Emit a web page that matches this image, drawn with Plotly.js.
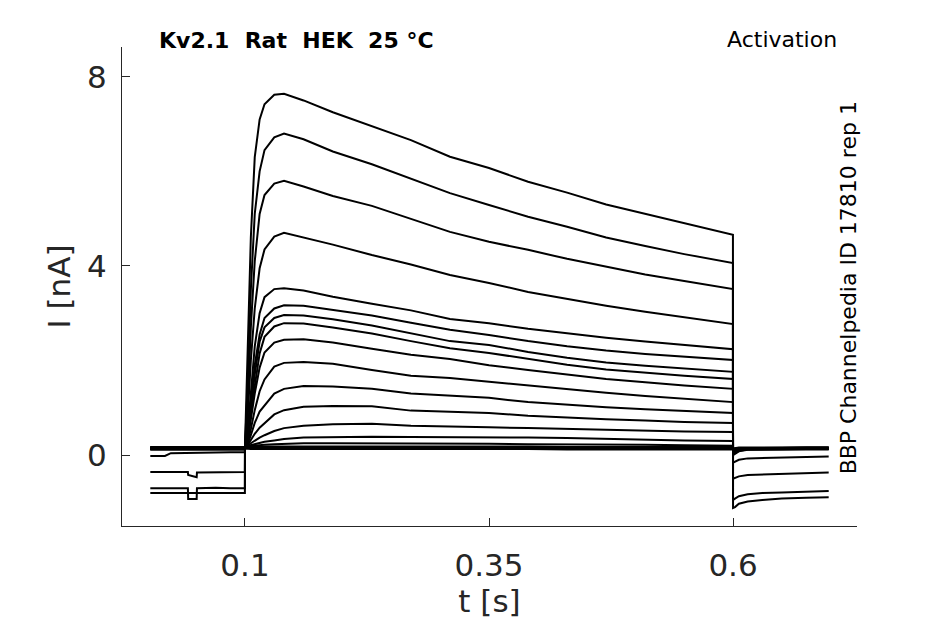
<!DOCTYPE html>
<html>
<head>
<meta charset="utf-8">
<script src="https://cdn.plot.ly/plotly-3.0.1.min.js"></script>
<style>html,body{margin:0;padding:0;background:#fff;}#chart{width:945px;height:624px;}</style>
</head>
<body>
<div id="chart"></div>
<script>
// time bases (s)
const tPre = [0.003, 0.018, 0.024, 0.0415, 0.0418, 0.0505, 0.0508, 0.07, 0.085, 0.0999];
const tStep = [0.1, 0.103, 0.106, 0.11, 0.115, 0.12, 0.13, 0.14, 0.16, 0.19, 0.23, 0.27, 0.31, 0.35, 0.39, 0.43, 0.47, 0.51, 0.55, 0.5999];
const tTail = [0.6, 0.602, 0.606, 0.615, 0.63, 0.65, 0.675, 0.698];

// currents (nA) before the step, one row per sweep
const preCurrents = [
  [-0.80,-0.80,-0.79,-0.80,-0.80,-0.80,-0.80,-0.79,-0.80,-0.80],
  [-0.70,-0.70,-0.70,-0.70,-0.93,-0.93,-0.70,-0.69,-0.70,-0.70],
  [-0.36,-0.36,-0.35,-0.36,-0.42,-0.47,-0.37,-0.36,-0.36,-0.36],
  [-0.02,-0.02,0.04,0.05,0.05,0.05,0.05,0.06,0.06,0.06],
  [0.14,0.14,0.15,0.14,0.14,0.14,0.14,0.15,0.14,0.14],
  [0.15,0.15,0.15,0.16,0.15,0.15,0.15,0.15,0.16,0.15],
  [0.16,0.16,0.16,0.16,0.16,0.17,0.16,0.16,0.16,0.16],
  [0.13,0.13,0.14,0.13,0.13,0.13,0.13,0.14,0.13,0.13],
  [0.17,0.17,0.17,0.17,0.17,0.17,0.17,0.17,0.17,0.17],
  [0.12,0.12,0.12,0.13,0.12,0.12,0.12,0.12,0.12,0.12],
  [0.15,0.15,0.16,0.15,0.15,0.15,0.15,0.15,0.15,0.15],
  [0.14,0.14,0.14,0.14,0.14,0.15,0.14,0.14,0.14,0.14],
  [0.16,0.16,0.16,0.16,0.16,0.16,0.16,0.16,0.16,0.16],
  [0.13,0.13,0.13,0.13,0.13,0.13,0.14,0.13,0.13,0.13],
  [0.15,0.15,0.15,0.15,0.15,0.15,0.15,0.15,0.15,0.15],
  [0.16,0.16,0.17,0.16,0.16,0.16,0.16,0.16,0.16,0.16],
  [0.14,0.14,0.14,0.14,0.14,0.14,0.14,0.14,0.14,0.14],
  [0.12,0.12,0.12,0.12,0.12,0.12,0.12,0.12,0.12,0.12]
];

// currents (nA) during the voltage step
const stepCurrents = [
  [0.2, 2.2, 4.6, 6.3, 7.1, 7.42, 7.62, 7.64, 7.50, 7.25, 6.95, 6.66, 6.31, 6.07, 5.78, 5.55, 5.30, 5.10, 4.90, 4.66],
  [0.2, 1.6, 3.5, 5.1, 6.0, 6.45, 6.72, 6.80, 6.68, 6.42, 6.15, 5.85, 5.54, 5.29, 5.04, 4.83, 4.60, 4.42, 4.25, 4.06],
  [0.2, 1.2, 2.7, 4.1, 5.1, 5.5, 5.74, 5.80, 5.68, 5.48, 5.27, 5.00, 4.72, 4.51, 4.34, 4.15, 3.98, 3.82, 3.68, 3.51],
  [0.2, 0.9, 2.0, 3.1, 3.95, 4.35, 4.62, 4.70, 4.60, 4.45, 4.23, 4.03, 3.81, 3.64, 3.45, 3.30, 3.16, 3.03, 2.91, 2.77],
  [0.2, 0.6, 1.3, 2.3, 3.0, 3.34, 3.51, 3.53, 3.48, 3.35, 3.20, 3.06, 2.88, 2.79, 2.67, 2.57, 2.48, 2.40, 2.33, 2.24],
  [0.2, 0.5, 1.1, 1.9, 2.55, 2.9, 3.1, 3.17, 3.16, 3.07, 2.95, 2.80, 2.65, 2.54, 2.41, 2.30, 2.21, 2.14, 2.08, 2.01],
  [0.2, 0.45, 1.0, 1.7, 2.4, 2.7, 2.9, 2.96, 2.95, 2.87, 2.74, 2.58, 2.41, 2.33, 2.18, 2.06, 1.96, 1.89, 1.83, 1.76],
  [0.2, 0.4, 0.9, 1.5, 2.15, 2.5, 2.72, 2.79, 2.78, 2.70, 2.57, 2.41, 2.26, 2.16, 2.03, 1.91, 1.81, 1.74, 1.68, 1.61],
  [0.2, 0.35, 0.75, 1.3, 1.85, 2.17, 2.38, 2.44, 2.45, 2.38, 2.25, 2.12, 2.03, 1.90, 1.80, 1.70, 1.61, 1.54, 1.47, 1.40],
  [0.2, 0.3, 0.55, 0.95, 1.35, 1.6, 1.87, 1.95, 1.97, 1.93, 1.80, 1.68, 1.63, 1.55, 1.48, 1.40, 1.32, 1.25, 1.19, 1.12],
  [0.2, 0.25, 0.42, 0.68, 0.92, 1.05, 1.30, 1.40, 1.46, 1.45, 1.40, 1.30, 1.25, 1.21, 1.12, 1.06, 1.01, 0.97, 0.93, 0.89],
  [0.2, 0.22, 0.32, 0.45, 0.58, 0.68, 0.86, 0.95, 1.02, 1.04, 1.03, 0.94, 0.91, 0.89, 0.83, 0.79, 0.76, 0.73, 0.70, 0.68],
  [0.2, 0.2, 0.25, 0.31, 0.37, 0.42, 0.51, 0.57, 0.62, 0.65, 0.66, 0.62, 0.61, 0.59, 0.57, 0.55, 0.53, 0.52, 0.50, 0.49],
  [0.2, 0.19, 0.21, 0.23, 0.26, 0.28, 0.31, 0.34, 0.37, 0.38, 0.39, 0.38, 0.38, 0.38, 0.37, 0.36, 0.34, 0.33, 0.31, 0.30],
  [0.2, 0.18, 0.19, 0.2, 0.21, 0.22, 0.23, 0.24, 0.25, 0.25, 0.25, 0.25, 0.24, 0.24, 0.23, 0.23, 0.22, 0.22, 0.21, 0.20],
  [0.18, 0.17, 0.17, 0.17, 0.18, 0.18, 0.18, 0.18, 0.18, 0.19, 0.19, 0.18, 0.18, 0.18, 0.18, 0.17, 0.17, 0.17, 0.17, 0.17],
  [0.16, 0.15, 0.15, 0.15, 0.15, 0.16, 0.16, 0.16, 0.16, 0.16, 0.16, 0.16, 0.15, 0.15, 0.15, 0.15, 0.15, 0.15, 0.15, 0.15],
  [0.14, 0.13, 0.13, 0.13, 0.13, 0.14, 0.14, 0.14, 0.14, 0.14, 0.13, 0.13, 0.13, 0.13, 0.13, 0.12, 0.12, 0.13, 0.13, 0.13]
];

// tail currents (nA) after the step
const tailCurrents = [
  [-1.12,-1.10,-1.03,-0.98,-0.95,-0.92,-0.90,-0.89],
  [-0.95,-0.92,-0.87,-0.83,-0.80,-0.79,-0.77,-0.76],
  [-0.50,-0.48,-0.45,-0.42,-0.41,-0.40,-0.38,-0.37],
  [-0.16,-0.14,-0.10,-0.07,-0.06,-0.05,-0.04,-0.03],
  [0.00,0.03,0.08,0.11,0.12,0.12,0.13,0.13],
  [0.02,0.05,0.09,0.12,0.13,0.13,0.14,0.14],
  [0.05,0.08,0.11,0.13,0.14,0.14,0.15,0.15],
  [0.06,0.09,0.12,0.13,0.14,0.15,0.15,0.15],
  [0.08,0.10,0.12,0.14,0.15,0.15,0.16,0.16],
  [0.09,0.11,0.13,0.14,0.14,0.15,0.15,0.15],
  [0.10,0.12,0.13,0.14,0.15,0.15,0.15,0.15],
  [0.11,0.12,0.13,0.14,0.14,0.14,0.14,0.14],
  [0.12,0.13,0.14,0.15,0.15,0.16,0.16,0.16],
  [0.12,0.13,0.13,0.13,0.13,0.13,0.13,0.13],
  [0.13,0.14,0.15,0.15,0.15,0.15,0.15,0.15],
  [0.14,0.15,0.16,0.16,0.16,0.16,0.16,0.16],
  [0.13,0.14,0.14,0.14,0.14,0.14,0.14,0.14],
  [0.12,0.12,0.12,0.12,0.12,0.12,0.12,0.12]
];

const xTickVals = [0.1, 0.35, 0.6];
const xTickText = ['0.1', '0.35', '0.6'];
const yTickVals = [0, 4, 8];
const yTickText = ['0', '4', '8'];

const tAll = tPre.concat(tStep, tTail);
const traces = preCurrents.map((pre, i) => ({
  type: 'scatter',
  mode: 'lines',
  x: tAll,
  y: pre.concat(stepCurrents[i], tailCurrents[i]),
  line: {color: '#000000', width: 2},
  hoverinfo: 'skip',
  showlegend: false
}));

const FONT = 'DejaVu Sans, sans-serif';
const axisColor = '#262626';

const layout = {
  width: 945, height: 624,
  margin: {l: 122, r: 88, t: 47, b: 98},
  paper_bgcolor: '#ffffff',
  plot_bgcolor: '#ffffff',
  showlegend: false,
  xaxis: {
    range: [-0.026, 0.727],
    tickvals: xTickVals, ticktext: xTickText,
    ticks: 'inside', ticklen: 8, tickwidth: 1, tickcolor: axisColor,
    showline: true, linecolor: axisColor, linewidth: 1,
    showgrid: false, zeroline: false,
    tickfont: {family: FONT, size: 31, color: axisColor},
    ticklabelstandoff: 12,
    title: {text: 't [s]', font: {family: FONT, size: 31, color: axisColor}, standoff: 4}
  },
  yaxis: {
    range: [-1.5, 8.63],
    tickvals: yTickVals, ticktext: yTickText,
    ticks: 'inside', ticklen: 8, tickwidth: 1, tickcolor: axisColor,
    showline: true, linecolor: axisColor, linewidth: 1,
    showgrid: false, zeroline: false,
    tickfont: {family: FONT, size: 31, color: axisColor},
    ticklabelstandoff: 8,
    title: {text: 'I [nA]', font: {family: FONT, size: 31, color: axisColor}, standoff: 7}
  },
  annotations: [
    {text: '<b>Kv2.1  Rat  HEK  25 °C</b>', xref: 'paper', yref: 'paper',
     x: 0.048, y: 1.0146, xanchor: 'left', yanchor: 'middle', showarrow: false,
     font: {family: FONT, size: 22, color: '#000000'}},
    {text: 'Activation', xref: 'paper', yref: 'paper',
     x: 0.975, y: 1.0167, xanchor: 'right', yanchor: 'middle', showarrow: false,
     font: {family: FONT, size: 22, color: '#000000'}},
    {text: 'BBP Channelpedia ID 17810 rep 1', xref: 'paper', yref: 'paper',
     x: 0.989, y: 0.498, xanchor: 'center', yanchor: 'middle', showarrow: false,
     textangle: -90,
     font: {family: FONT, size: 22, color: '#000000'}}
  ]
};

Plotly.newPlot('chart', traces, layout, {staticPlot: true, displayModeBar: false});
</script>
</body>
</html>
